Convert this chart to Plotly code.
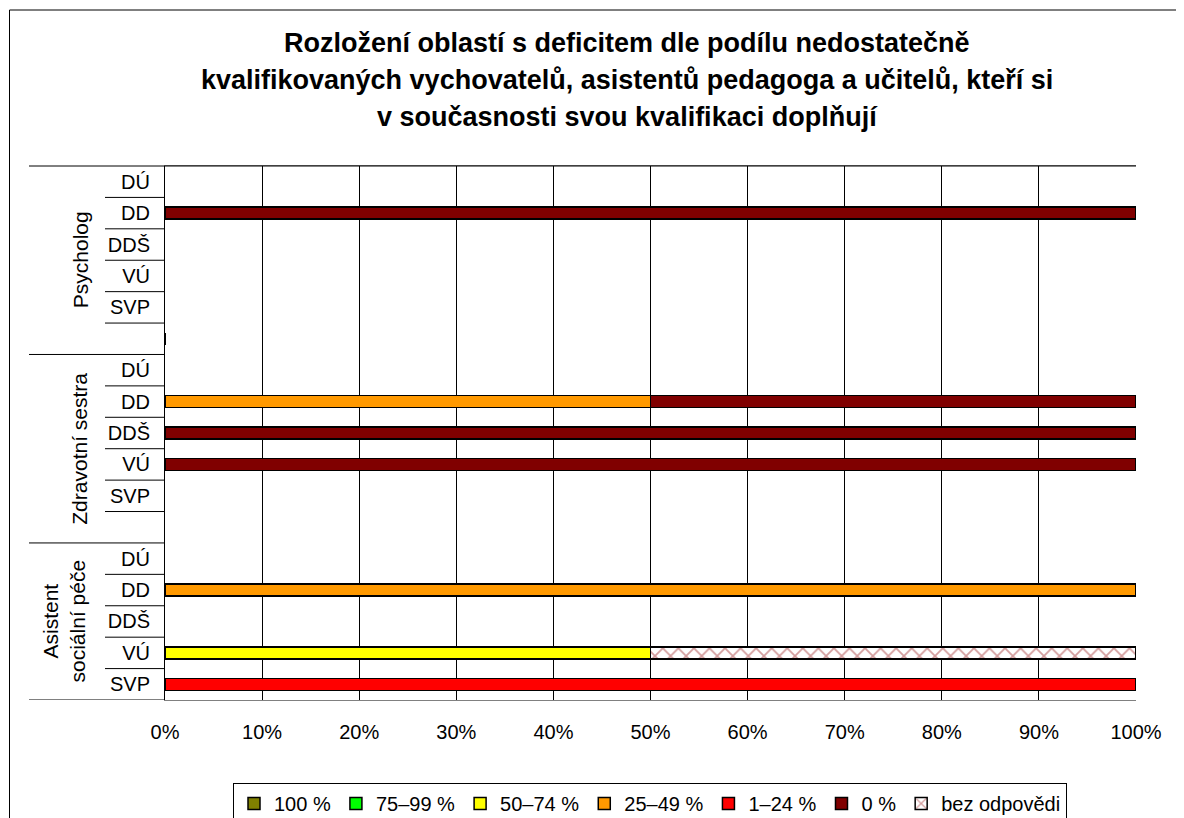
import plotly.graph_objects as go

# ---------------- data ----------------
groups = ["Psycholog", "Zdravotní sestra", "Asistent<br>sociální péče"]
facilities = ["DÚ", "DD", "DDŠ", "VÚ", "SVP"]

# row labels top->bottom (blank row separates groups)
row_labels = ["DÚ", "DD", "DDŠ", "VÚ", "SVP", "",
              "DÚ", "DD", "DDŠ", "VÚ", "SVP", "",
              "DÚ", "DD", "DDŠ", "VÚ", "SVP"]

series_names = ["100 %", "75–99 %", "50–74 %", "25–49 %", "1–24 %", "0 %", "bez odpovědi"]
# categories with no occurrences carry a single 0 on a blank row (legend entry only)
v_100 = [None, None, None, None, None, 0,
         None, None, None, None, None, None,
         None, None, None, None, None]
v_75_99 = [None, None, None, None, None, 0,
           None, None, None, None, None, None,
           None, None, None, None, None]
v_50_74 = [None, None, None, None, None, None,
           None, None, None, None, None, None,
           None, None, None, 50, None]
v_25_49 = [None, None, None, None, None, None,
           None, 50, None, None, None, None,
           None, 100, None, None, None]
v_1_24 = [None, None, None, None, None, None,
          None, None, None, None, None, None,
          None, None, None, None, 100]
v_0 = [None, 100, None, None, None, None,
       None, 50, 100, 100, None, None,
       None, None, None, None, None]
v_bez = [None, None, None, None, None, None,
         None, None, None, None, None, None,
         None, None, None, 50, None]

x_ticks = [0, 10, 20, 30, 40, 50, 60, 70, 80, 90, 100]

colors = ["#808000", "#00FF00", "#FFFF00", "#FF9900", "#FF0000", "#800000", "#FFFFFF"]
series_values = [v_100, v_75_99, v_50_74, v_25_49, v_1_24, v_0, v_bez]

# ---------------- layout constants ----------------
OFF = 8                     # page body margin
W, H = 1176, 810
PL, PR, PT, PB = 165, 1136, 166, 700   # plot area in screen pixels
ML, MR, MT, MB = PL - OFF, OFF + W - PR, PT - OFF, OFF + H - PB
PW = PR - PL
PH = PB - PT
FONT = "Liberation Sans, Arial, sans-serif"

def px_x(sx):
    return (sx - PL) / PW

def px_y(sy):
    return (PB - sy) / PH

ypos = list(range(len(row_labels)))

fig = go.Figure()
for name, vals, col in zip(series_names, series_values, colors):
    xs = [v for v in vals if v is not None]
    ys = [y for y, v in zip(ypos, vals) if v is not None]
    marker = dict(color=col, line=dict(color="black", width=1.5))
    if name == "bez odpovědi":
        marker["pattern"] = dict(shape="x", fgcolor="#a83c3c", bgcolor="white",
                                 size=11, solidity=0.3)
    fig.add_trace(go.Bar(
        x=xs, y=ys, name=name, orientation="h", width=0.38,
        marker=marker, showlegend=True, hoverinfo="skip",
    ))

shapes = []
g_ranges = [(0, 5), (6, 11), (12, 16)]
for g0, g1 in g_ranges:
    for r in range(g0, g1):
        shapes.append(dict(type="line", xref="paper", yref="y",
                           x0=px_x(105), x1=0, y0=r + 0.5, y1=r + 0.5,
                           line=dict(color="black", width=1)))
for yb in [5.5, 11.5, 16.5]:
    shapes.append(dict(type="line", xref="paper", yref="y",
                       x0=px_x(29), x1=0, y0=yb, y1=yb,
                       line=dict(color="black", width=1)))
# top line across whole chart top
shapes.append(dict(type="line", xref="paper", yref="paper",
                   x0=px_x(29), x1=1, y0=1, y1=1,
                   line=dict(color="black", width=1)))
# outer frame (left and top)
shapes.append(dict(type="line", xref="paper", yref="paper",
                   x0=px_x(9.5), x1=px_x(9.5), y0=px_y(10), y1=px_y(830),
                   line=dict(color="black", width=1)))
shapes.append(dict(type="line", xref="paper", yref="paper",
                   x0=px_x(9.5), x1=px_x(1200), y0=px_y(10), y1=px_y(10),
                   line=dict(color="black", width=1)))

annotations = []
title_lines = ["Rozložení oblastí s deficitem dle podílu nedostatečně",
               "kvalifikovaných vychovatelů, asistentů pedagoga a učitelů, kteří si",
               "v současnosti svou kvalifikaci doplňují"]
for line, py in zip(title_lines, [43, 80, 117]):
    annotations.append(dict(text="<b>" + line + "</b>", xref="paper", yref="paper",
                            x=px_x(627), y=px_y(py), xanchor="center", yanchor="middle",
                            showarrow=False, font=dict(family=FONT, size=27, color="black")))

group_centers = [2.5, 8.5, 14]
group_x = [80, 80, 64]
for g, yc, gx in zip(groups, group_centers, group_x):
    annotations.append(dict(text=g, xref="paper", yref="y", x=px_x(gx), y=yc,
                            xanchor="center", yanchor="middle", textangle=-90,
                            showarrow=False, font=dict(family=FONT, size=21, color="black")))

fig.update_layout(
    width=W, height=H,
    margin=dict(l=ML, r=MR, t=MT, b=MB, autoexpand=False),
    paper_bgcolor="white", plot_bgcolor="white",
    barmode="stack",
    font=dict(family=FONT, size=20, color="black"),
    showlegend=True,
    legend=dict(orientation="h", x=px_x(650), xanchor="center", y=px_y(783), yanchor="top",
                bordercolor="black", borderwidth=1, bgcolor="white",
                font=dict(family=FONT, size=20, color="black"),
                traceorder="normal", itemwidth=30),
    shapes=shapes,
    annotations=annotations,
    hovermode=False,
)
fig.update_xaxes(range=[0, 100], tickvals=x_ticks, ticktext=[f"{t}%" for t in x_ticks],
                 showgrid=True, gridcolor="black", gridwidth=1, zeroline=False,
                 showline=True, linecolor="#808080", linewidth=1, mirror=True,
                 ticks="", ticklabelstandoff=14,
                 tickfont=dict(family=FONT, size=20, color="black"))
fig.update_yaxes(range=[16.5, -0.5], tickvals=ypos, ticktext=row_labels,
                 showgrid=False, zeroline=False,
                 showline=True, linecolor="black", linewidth=1,
                 ticks="", ticklabelstandoff=10,
                 tickfont=dict(family=FONT, size=20, color="black"))

fig.write_html("out.html")
